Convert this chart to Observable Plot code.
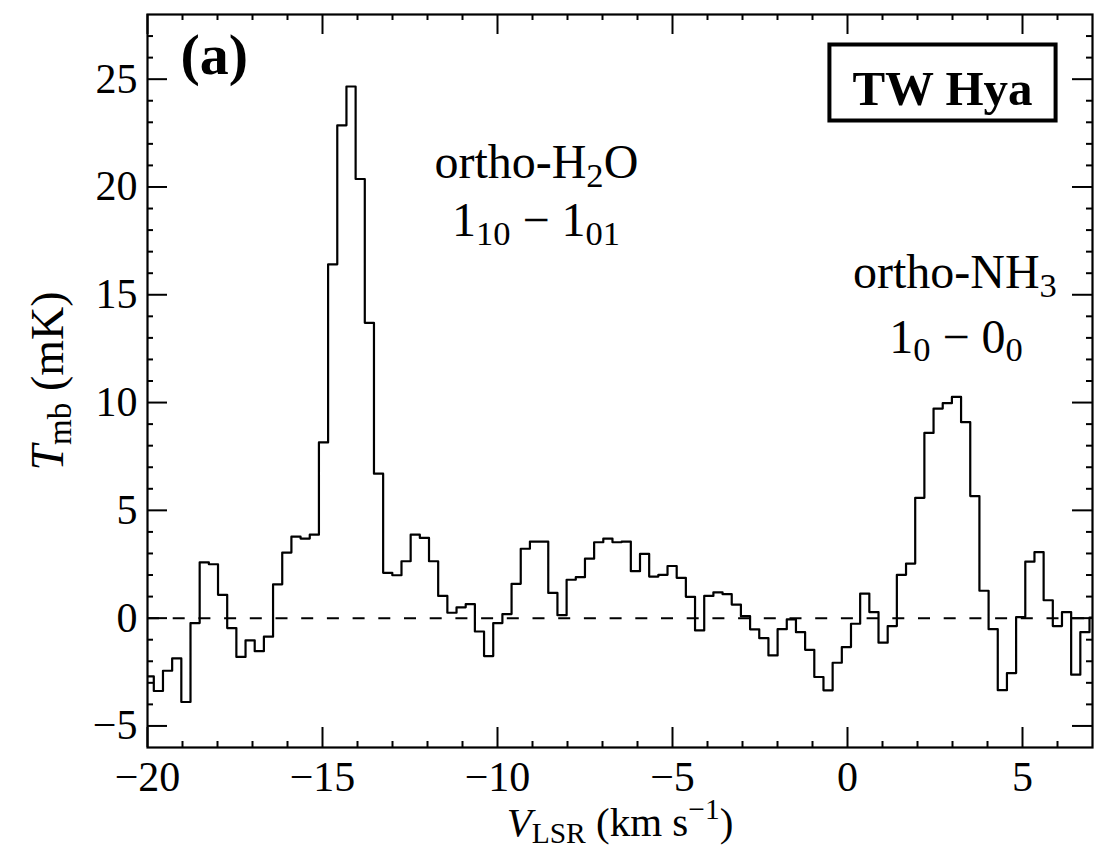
<!DOCTYPE html>
<html>
<head>
<meta charset="utf-8">
<script src="https://cdn.jsdelivr.net/npm/d3@7"></script>
<script src="https://cdn.jsdelivr.net/npm/@observablehq/plot@0.6"></script>
<style>
  html, body { margin: 0; padding: 0; background: #fff; }
</style>
</head>
<body>
<div id="chart"></div>
<script>
// ---- data ----
// spectral grid: left edge of first channel and channel width (km/s)
const V_FIRST_EDGE = -20.082;
const CHANNEL_WIDTH = 0.2621;
// main-beam temperature per channel (mK)
const tmb = [
  -2.70, -3.38, -2.44, -1.87, -3.89, -0.23, 2.59, 2.50, 1.08, -0.46,
  -1.80, -1.03, -1.53, -0.86, 1.57, 3.04, 3.78, 3.69, 3.87, 8.15,
  16.41, 22.86, 24.66, 20.37, 13.70, 6.70, 2.10, 1.99, 2.64, 3.87,
  3.72, 2.64, 1.03, 0.25, 0.50, 0.65, -0.62, -1.76, -0.23, 0.19,
  1.59, 3.22, 3.55, 3.55, 1.17, 0.14, 1.78, 1.90, 2.76, 3.52,
  3.69, 3.52, 3.55, 2.18, 2.98, 1.93, 2.01, 2.42, 1.87, 0.99,
  -0.57, 1.03, 1.20, 1.11, 0.63, 0.09, -0.52, -0.93, -1.73, -0.51,
  -0.06, -0.65, -1.47, -2.73, -3.35, -2.07, -1.34, -0.26, 1.14, 0.28,
  -1.14, -0.37, 2.01, 2.53, 5.58, 8.59, 9.72, 9.97, 10.26, 9.09,
  5.66, 1.27, -0.51, -3.34, -2.55, 0.05, 2.62, 3.06, 0.83, -0.37,
  0.28, -2.62, -0.65, 0.02
];
const xMajor = [-20, -15, -10, -5, 0, 5];
const xMinor = [-19, -18, -17, -16, -14, -13, -12, -11, -9, -8, -7, -6, -4, -3, -2, -1, 1, 2, 3, 4, 6];
const yMajor = [-5, 0, 5, 10, 15, 20, 25];
const yMinor = [-4, -3, -2, -1, 1, 2, 3, 4, 6, 7, 8, 9, 11, 12, 13, 14, 16, 17, 18, 19, 21, 22, 23, 24, 26, 27];
// line annotations (baseline anchor in data units)
const annotLabels = ["ortho-H_{2}O", "1_{10} − 1_{01}", "ortho-NH_{3}", "1_{0} − 0_{0}"];
const annotV = [-8.89, -8.90, 3.07, 3.10];
const annotT = [20.42, 17.72, 15.32, 12.31];
const panelLabel = "(a)";
const sourceLabel = "TW Hya";
const xLabel = "*V*_{LSR} (km s^{−1})";
const yLabel = "*T*_{mb} (mK)";

// ---- layout ----
const W = 1113, H = 849, mL = 147, mR = 21, mT = 14, mB = 102;
const FW = W - mL - mR, FH = H - mT - mB;
const MAJ = 20, MIN = 6;

const spectrum = tmb.map((t, i) => ({v: V_FIRST_EDGE + i * CHANNEL_WIDTH, t}));
spectrum.push({v: V_FIRST_EDGE + tmb.length * CHANNEL_WIDTH, t: tmb[tmb.length - 1]});
const annots = annotLabels.map((label, i) => ({label, v: annotV[i], t: annotT[i]}));
const fmt = d => (d < 0 ? "\u2212" + Math.abs(d) : String(d));

const tickStyle = {stroke: "black", strokeWidth: 2};

const plot = Plot.plot({
  width: W, height: H,
  marginLeft: mL, marginRight: mR, marginTop: mT, marginBottom: mB,
  style: {fontFamily: "'Liberation Serif', 'Times New Roman', serif", fontSize: "42px", color: "black", background: "white"},
  x: {domain: [-20, 7]},
  y: {domain: [-6, 28]},
  marks: [
    Plot.ruleY([0], {stroke: "black", strokeWidth: 2, strokeDasharray: "12 13.7"}),
    Plot.line(spectrum, {x: "v", y: "t", curve: "step-after", stroke: "black", strokeWidth: 2.2, clip: true}),
    // inward ticks on all four sides
    Plot.ruleX(xMajor, {...tickStyle, insetTop: FH - MAJ}),
    Plot.ruleX(xMajor, {...tickStyle, insetBottom: FH - MAJ}),
    Plot.ruleX(xMinor, {...tickStyle, insetTop: FH - MIN}),
    Plot.ruleX(xMinor, {...tickStyle, insetBottom: FH - MIN}),
    Plot.ruleY(yMajor, {...tickStyle, insetRight: FW - MAJ}),
    Plot.ruleY(yMajor, {...tickStyle, insetLeft: FW - MAJ}),
    Plot.ruleY(yMinor, {...tickStyle, insetRight: FW - MIN}),
    Plot.ruleY(yMinor, {...tickStyle, insetLeft: FW - MIN}),
    Plot.frame({stroke: "black", strokeWidth: 2.2}),
    Plot.axisX(xMajor, {tickSize: 0, tickPadding: 14, tickFormat: fmt, fontSize: 42, label: null}),
    Plot.axisY(yMajor, {tickSize: 0, tickPadding: 10, tickFormat: fmt, fontSize: 42, label: null}),
    Plot.text(annots, {x: "v", y: "t", text: "label", textAnchor: "middle", lineAnchor: "bottom", fontSize: 48}),
    Plot.text([panelLabel], {frameAnchor: "top-left", textAnchor: "start", lineAnchor: "bottom", dx: 33, dy: 59, fontSize: 58, fontWeight: "bold"}),
    Plot.text([sourceLabel], {frameAnchor: "top-right", textAnchor: "middle", lineAnchor: "bottom", dx: -150, dy: 90, fontSize: 49, fontWeight: "bold"}),
    Plot.text([xLabel], {frameAnchor: "bottom", textAnchor: "middle", lineAnchor: "bottom", dy: 88, fontSize: 41}),
    Plot.text([yLabel], {frameAnchor: "left", textAnchor: "middle", lineAnchor: "bottom", rotate: -90, dx: -85, fontSize: 46})
  ]
});

document.getElementById("chart").appendChild(plot);

// rich text: _{sub}, ^{sup}, *italic*
const NS = "http://www.w3.org/2000/svg";
plot.querySelectorAll("text").forEach(el => {
  const s = el.textContent;
  if (!/(_\{|\^\{|\*)/.test(s)) return;
  const fs = parseFloat(getComputedStyle(el).fontSize);
  const parts = s.split(/(_\{[^}]*\}|\^\{[^}]*\}|\*[^*]*\*)/).filter(p => p);
  el.textContent = "";
  let shift = 0;
  for (const p of parts) {
    const ts = document.createElementNS(NS, "tspan");
    let target = 0, txt = p, small = false, ital = false;
    if (p.startsWith("_{")) { target = 0.18 * fs; txt = p.slice(2, -1); small = true; }
    else if (p.startsWith("^{")) { target = -0.4 * fs; txt = p.slice(2, -1); small = true; }
    else if (p.startsWith("*")) { txt = p.slice(1, -1); ital = true; }
    if (target !== shift) ts.setAttribute("dy", target - shift);
    shift = target;
    if (small) ts.setAttribute("font-size", 0.72 * fs);
    if (ital) ts.setAttribute("font-style", "italic");
    ts.textContent = txt;
    el.appendChild(ts);
  }
});

// box around the source label
const tw = [...plot.querySelectorAll("text")].find(t => t.textContent === sourceLabel);
if (tw) {
  const bb = tw.getBBox();
  const r = document.createElementNS(NS, "rect");
  r.setAttribute("x", bb.x - 23);
  r.setAttribute("y", bb.y - 16);
  r.setAttribute("width", bb.width + 46);
  r.setAttribute("height", bb.height + 21);
  r.setAttribute("fill", "none");
  r.setAttribute("stroke", "black");
  r.setAttribute("stroke-width", 4);
  const tr = tw.getAttribute("transform");
  if (tr) r.setAttribute("transform", tr);
  tw.parentNode.insertBefore(r, tw);
}
</script>
</body>
</html>
